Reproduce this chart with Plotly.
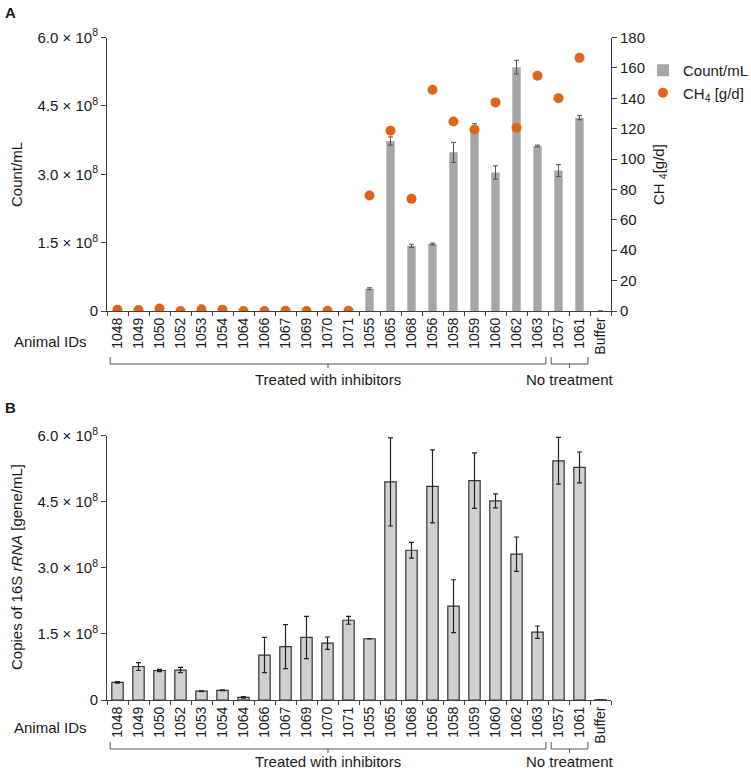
import plotly.graph_objects as go

W, H = 751, 770

animal_ids = ["1048", "1049", "1050", "1052", "1053", "1054", "1064", "1066", "1067",
              "1069", "1070", "1071", "1055", "1065", "1068", "1056", "1058", "1059",
              "1060", "1062", "1063", "1057", "1061", "Buffer"]

# Panel A: flow cytometry counts (Count/mL) and methane (g/d)
count_ml = [0.1e7, 0.1e7, 0.2e7, 0.1e7, 1.1e7, 0.7e7, 0.1e7, 0.1e7, 0.5e7,
            0.1e7, 0.1e7, 0.1e7, 4.9e7, 3.73e8, 1.43e8, 1.47e8, 3.48e8, 4.02e8,
            3.04e8, 5.35e8, 3.62e8, 3.08e8, 4.24e8, 0]
count_err = [0, 0, 0, 0, 0.2e7, 0.1e7, 0, 0, 0.1e7,
             0, 0, 0, 0.2e7, 0.9e7, 0.35e7, 0.2e7, 2.2e7, 0.9e7,
             1.45e7, 1.5e7, 0.2e7, 1.3e7, 0.45e7, 0]
ch4_gd = [0.8, 0.6, 1.6, 0.0, 0.8, 0.8, 0.0, 0.0, 0.2,
          0.0, 0.1, 0.1, 76, 118.7, 73.8, 145.6, 124.7, 119.4,
          137.3, 120.6, 154.8, 140.1, 166.6, None]

# Panel B: copies of 16S rRNA (gene/mL)
copies_16s = [0.40e8, 0.76e8, 0.67e8, 0.68e8, 0.20e8, 0.22e8, 0.06e8, 1.02e8, 1.21e8,
              1.42e8, 1.29e8, 1.81e8, 1.39e8, 4.95e8, 3.40e8, 4.85e8, 2.13e8, 4.98e8,
              4.52e8, 3.31e8, 1.54e8, 5.43e8, 5.28e8, 0.005e8]
copies_err = [0.015e8, 0.09e8, 0.025e8, 0.06e8, 0.01e8, 0.01e8, 0.02e8, 0.40e8, 0.50e8,
              0.48e8, 0.14e8, 0.09e8, 0.005e8, 1.0e8, 0.18e8, 0.83e8, 0.60e8, 0.63e8,
              0.16e8, 0.39e8, 0.14e8, 0.53e8, 0.35e8, 0]

left_tickvals = [0, 1.5e8, 3.0e8, 4.5e8, 6.0e8]
left_ticktext = ["0", "1.5 × 10<sup>8</sup>", "3.0 × 10<sup>8</sup>",
                 "4.5 × 10<sup>8</sup>", "6.0 × 10<sup>8</sup>"]
right_tickvals = [0, 20, 40, 60, 80, 100, 120, 140, 160, 180]

groups = [("Treated with inhibitors", 0, 20), ("No treatment", 21, 22)]

FONT = "Liberation Sans, Arial, sans-serif"
TXT = "#1a1a1a"
AX = "#404040"

def px_x(p):
    return p / W

def px_y(p):
    return 1 - p / H

xdom = [px_x(107), px_x(611)]
ydomA = [px_y(311), px_y(37.5)]
ydomB = [px_y(700), px_y(435.7)]

fig = go.Figure()

fig.add_trace(go.Bar(
    x=animal_ids, y=count_ml, name="Count/mL",
    marker=dict(color="#a6a6a6", line=dict(width=0)), width=0.4,
    error_y=dict(type="data", array=count_err, color="#505050", thickness=1, width=2.5),
    xaxis="x", yaxis="y"))
fig.add_trace(go.Scatter(
    x=animal_ids, y=ch4_gd, name="CH<sub>4</sub> [g/d]", mode="markers",
    marker=dict(color="#df6619", size=10, line=dict(width=0)),
    xaxis="x", yaxis="y2"))
fig.add_trace(go.Bar(
    x=animal_ids, y=copies_16s, showlegend=False,
    marker=dict(color="#d0d0d0", line=dict(color="#333333", width=1.2)), width=0.54,
    error_y=dict(type="data", array=copies_err, color="#222222", thickness=1.2, width=2.5),
    xaxis="x2", yaxis="y3"))

xcommon = dict(type="category", categoryorder="array", categoryarray=animal_ids,
               domain=xdom, showline=True, linecolor=AX, linewidth=1,
               ticks="outside", tickson="boundaries", ticklen=4, tickcolor=AX,
               tickangle=-90, tickfont=dict(size=14, color=TXT, family=FONT),
               showgrid=False, zeroline=False, range=[-0.5, 23.5], automargin=False)
ycommon = dict(range=[0, 6.0e8], tickvals=left_tickvals, ticktext=left_ticktext,
               showline=True, linecolor=AX, linewidth=1, ticks="outside", ticklen=5,
               tickcolor=AX, tickfont=dict(size=15, color=TXT, family=FONT),
               showgrid=False, zeroline=False, automargin=False)

fig.update_layout(
    width=W, height=H, margin=dict(l=0, r=0, t=0, b=0, autoexpand=False),
    paper_bgcolor="white", plot_bgcolor="white",
    font=dict(family=FONT, color=TXT),
    bargap=0.2,
    xaxis=dict(anchor="y", **xcommon),
    yaxis=dict(domain=ydomA, anchor="x", **ycommon),
    yaxis2=dict(overlaying="y", side="right", anchor="x", range=[0, 180],
                tickvals=right_tickvals, showline=True, linecolor=AX, linewidth=1,
                ticks="outside", ticklen=5, tickcolor=AX,
                tickfont=dict(size=15, color=TXT, family=FONT),
                showgrid=False, zeroline=False, automargin=False),
    xaxis2=dict(anchor="y3", **xcommon),
    yaxis3=dict(domain=ydomB, anchor="x2", **ycommon),
    legend=dict(x=px_x(643), y=px_y(54), xanchor="left", yanchor="top",
                font=dict(size=15, color=TXT, family=FONT), bgcolor="rgba(0,0,0,0)",
                itemwidth=30, tracegroupgap=2),
)

def cann(text, x, y, xref="paper", angle=0, size=15):
    return dict(text=text, x=x, y=y, xref=xref, yref="paper", xanchor="center",
                yanchor="middle", textangle=angle, showarrow=False,
                borderpad=0, font=dict(size=size))

ann = []
ann.append(dict(text="<b>A</b>", x=px_x(3), y=px_y(2), xref="paper", yref="paper",
                xanchor="left", yanchor="top", showarrow=False, font=dict(size=15)))
ann.append(dict(text="<b>B</b>", x=px_x(3), y=px_y(397), xref="paper", yref="paper",
                xanchor="left", yanchor="top", showarrow=False, font=dict(size=15)))
ann.append(cann("Count/mL", px_x(16), px_y(175), angle=-90))
ann.append(cann("CH <sub>4</sub>[g/d]", px_x(659), px_y(175), angle=-90))
ann.append(cann("Copies of 16S <i>rRNA</i> [gene/mL]", px_x(16), px_y(567), angle=-90))

shapes = []
for (xa, yids, yline, ytext) in [("x", 341, 364, 380), ("x2", 727, 749, 761)]:
    ann.append(cann("Animal IDs", px_x(50), px_y(yids)))
    for label, i0, i1 in groups:
        a, b = i0 - 0.35, i1 + 0.4
        mid = (a + b) / 2
        ln = dict(color="#555555", width=1)
        shapes.append(dict(type="line", xref=xa, yref="paper", x0=a, x1=b,
                           y0=px_y(yline), y1=px_y(yline), line=ln))
        for xe in (a, b):
            shapes.append(dict(type="line", xref=xa, yref="paper", x0=xe, x1=xe,
                               y0=px_y(yline), y1=px_y(yline - 7), line=ln))
        shapes.append(dict(type="line", xref=xa, yref="paper", x0=mid, x1=mid,
                           y0=px_y(yline), y1=px_y(yline + 4), line=ln))
        ann.append(cann(label, mid, px_y(ytext), xref=xa))

fig.update_layout(annotations=ann, shapes=shapes)

fig.write_html("out.html")
